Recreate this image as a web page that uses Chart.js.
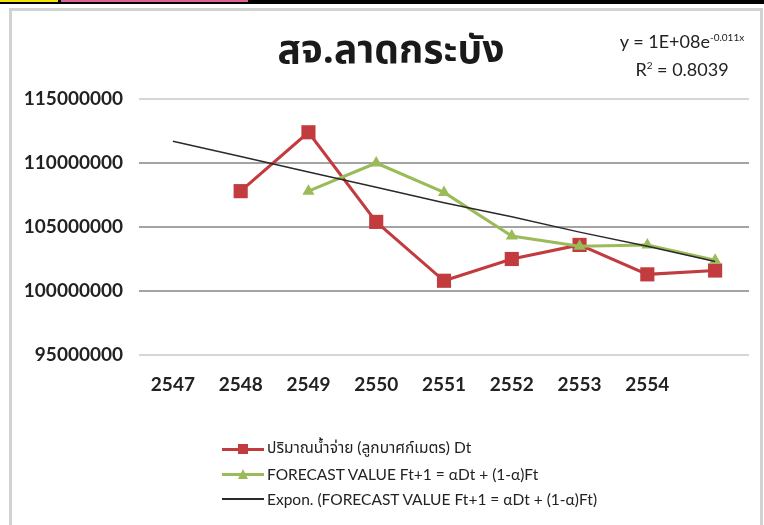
<!DOCTYPE html>
<html>
<head>
<meta charset="utf-8">
<script src="https://cdn.jsdelivr.net/npm/chart.js@4.4.1/dist/chart.umd.min.js"></script>
<style>
  html, body { margin: 0; padding: 0; background: #fff; }
  #wrap { position: relative; width: 764px; height: 525px; overflow: hidden; background: #fff; }
  .bar { position: absolute; top: 0; }
  #frame { position: absolute; left: 9px; top: 8px; width: 748px; height: 600px; border: 3px solid #d2d2d2; }
  #chart { position: absolute; left: 0; top: 0; }
  #title { position: absolute; left: 0; width: 782px; top: 22px; text-align: center;
           font: bold 39px "Noto Sans Thai", Tahoma, "DejaVu Sans", sans-serif; color: #1a1a1a; }
  #eq { position: absolute; left: 592px; width: 180px; top: 27px; text-align: center;
        font: 18px Lato, "Liberation Sans", sans-serif; color: #222; line-height: 28px; }
  #eq sup { font-size: 10px; vertical-align: 7px; line-height: 0; }
  #legend { position: absolute; left: 222px; top: 436px; font: 15.5px Lato, "Noto Sans Thai", sans-serif; color: #222; }
  .item { display: flex; align-items: center; height: 25px; }
  .swatch { position: relative; width: 42px; height: 12px; margin-right: 3px; }
  .swatch .ln { position: absolute; left: 0; right: 0; top: 5px; height: 3px; }
  .swatch .mk { position: absolute; left: 15px; top: 0; width: 12px; height: 12px; }
</style>
</head>
<body>
<div id="wrap">
  <div class="bar" style="left:0;width:764px;height:4px;background:#000"></div>
  <div class="bar" style="left:0;width:58px;height:2px;background:#f5e300"></div>
  <div class="bar" style="left:61px;width:187px;height:2px;background:#e0609a"></div>
  <div id="frame"></div>
  <canvas id="chart" width="764" height="525"></canvas>
  <div id="title">สจ.ลาดกระบัง</div>
  <div id="eq">y = 1E+08e<sup>-0.011x</sup><br>R<sup>2</sup> = 0.8039</div>
  <div id="legend"></div>
</div>
<script>
const years = ["2547", "2548", "2549", "2550", "2551", "2552", "2553", "2554", ""];
// ปริมาณน้ำจ่าย (ลบ.ม.) ต่อปี
const actual = [null, 107800000, 112400000, 105400000, 100800000, 102500000, 103600000, 101300000, 101600000];
// ค่าพยากรณ์ Ft+1
const forecast = [null, null, 107800000, 110000000, 107700000, 104300000, 103500000, 103600000, 102400000];
// เส้นแนวโน้ม Expon.
const trend = [111700000, 110500000, 109300000, 108100000, 106900000, 105800000, 104600000, 103500000, 102300000];
const yTicks = [95000000, 100000000, 105000000, 110000000, 115000000];

const RED = "#c23b3e";
const GREEN = "#9bbb59";
const labelFont = { family: "Lato", size: 19, weight: "bold" };

const datasets = [
  {
    label: "ปริมาณน้ำจ่าย (ลูกบาศก์เมตร) Dt",
    data: actual,
    borderColor: RED,
    backgroundColor: RED,
    borderWidth: 3,
    pointStyle: "rect",
    pointRadius: 10,
    pointBorderWidth: 0,
    order: 2,
  },
  {
    label: "FORECAST VALUE Ft+1 = αDt + (1-α)Ft",
    data: forecast,
    borderColor: GREEN,
    backgroundColor: GREEN,
    borderWidth: 3,
    pointStyle: "triangle",
    pointRadius: 7,
    pointBorderWidth: 0,
    order: 1,
  },
  {
    label: "Expon. (FORECAST VALUE Ft+1 = αDt + (1-α)Ft)",
    data: trend,
    borderColor: "#2a2a2a",
    borderWidth: 1.5,
    pointRadius: 0,
    order: 0,
  },
];

new Chart(document.getElementById("chart"), {
  type: "line",
  data: { labels: years, datasets },
  options: {
    responsive: false,
    animation: false,
    layout: { padding: { left: 10, right: 15, top: 99, bottom: 130 } },
    plugins: { legend: { display: false }, tooltip: { enabled: false } },
    scales: {
      x: {
        offset: true,
        grid: { display: false },
        border: { display: false },
        ticks: { color: "#222", font: labelFont, padding: 10, maxRotation: 0, autoSkip: false },
        afterFit: (s) => { s.height = 40; },
      },
      y: {
        min: yTicks[0],
        max: yTicks[yTicks.length - 1],
        afterBuildTicks: (s) => { s.ticks = yTicks.map((v) => ({ value: v })); },
        border: { display: false },
        grid: {
          drawTicks: false,
          lineWidth: 2,
          color: (c) => (c.tick && (c.tick.value === 95000000 || c.tick.value === 115000000) ? "#d6d6d6" : "#a4a4a4"),
        },
        ticks: { color: "#222", font: labelFont, padding: 16, callback: (v) => String(v) },
        afterFit: (s) => { s.width = 129; },
      },
    },
  },
});

// legend: line sample with the series marker, then the label
const marks = [
  { color: RED, mark: "rect" },
  { color: GREEN, mark: "tri" },
  { color: "#2a2a2a", mark: null },
];
document.getElementById("legend").innerHTML = datasets
  .map((d, i) => {
    const m = marks[i];
    let mk = "";
    if (m.mark === "rect") mk = `<div class="mk" style="background:${m.color};left:16px;top:1px;width:10px;height:10px"></div>`;
    if (m.mark === "tri") mk = `<div class="mk" style="width:0;height:0;left:16px;top:1px;border-left:5px solid transparent;border-right:5px solid transparent;border-bottom:10px solid ${m.color}"></div>`;
    const h = m.mark ? 3 : 2;
    return `<div class="item"><div class="swatch"><div class="ln" style="background:${m.color};height:${h}px"></div>${mk}</div><span>${d.label}</span></div>`;
  })
  .join("");
</script>
</body>
</html>
